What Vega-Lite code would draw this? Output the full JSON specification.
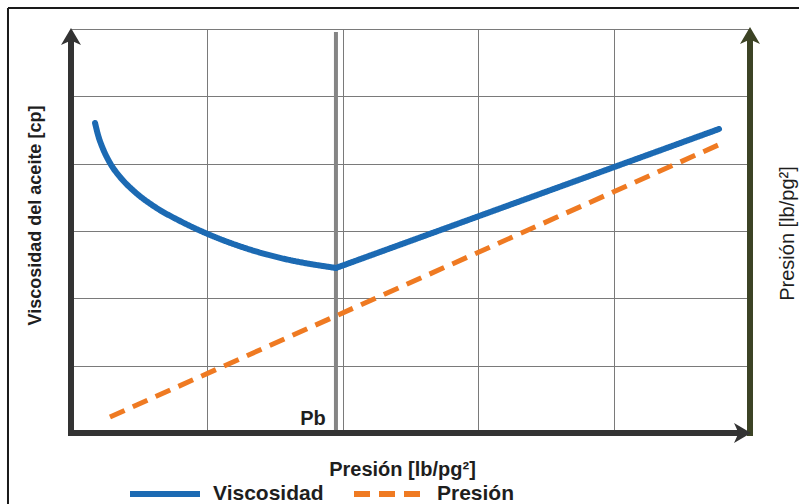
{
  "$schema": "https://vega.github.io/schema/vega-lite/v6.json",
  "width": 679,
  "height": 404,
  "autosize": {"type": "none"},
  "padding": {"left": 71, "top": 29, "right": 49, "bottom": 71},
  "background": "white",
  "config": {
    "view": {"stroke": null},
    "font": "Liberation Sans",
    "legend": {
      "orient": "none",
      "legendX": 56,
      "legendY": 427,
      "direction": "horizontal",
      "symbolType": "stroke",
      "symbolSize": 4900,
      "symbolStrokeWidth": 6,
      "labelFont": "Liberation Sans",
      "labelFontSize": 21,
      "labelFontWeight": "bold",
      "labelColor": "#1e1e1e",
      "labelOffset": 10,
      "columnPadding": 18,
      "padding": 0
    }
  },
  "resolve": {"axis": {"y": "independent"}},
  "encoding": {
    "x": {"field": "x", "type": "quantitative", "scale": {"domain": [0, 5], "nice": false, "zero": false},
      "axis": {"values": [1, 2, 3, 4], "grid": true, "gridColor": "#7a7a7a", "gridWidth": 1, "labels": false, "ticks": false, "domain": false,
        "title": "Presión [lb/pg²]", "titleFont": "Liberation Sans", "titleFontSize": 20, "titleFontWeight": "bold", "titleColor": "#1e1e1e",
        "titleX": 331, "titleY": 42, "titleAlign": "center", "titleBaseline": "alphabetic"}},
    "y": {"field": "y", "type": "quantitative", "scale": {"domain": [0, 6], "nice": false, "zero": false}, "axis": null}
  },
  "layer": [
    {
      "data": {"values": [
        {"x": -0.464, "x2": 5.4, "y": 6.312, "y2": 6.312},
        {"x": -0.464, "x2": -0.464, "y": 6.312, "y2": -1.2}
      ]},
      "mark": {"type": "rule", "color": "#1a1a1a", "strokeWidth": 2},
      "encoding": {"x2": {"field": "x2"}, "y2": {"field": "y2"}}
    },
    {
      "data": {"values": [{"x": 1.951, "y": 0, "y2": 5.955}]},
      "mark": {"type": "rule", "color": "#858585", "strokeWidth": 4},
      "encoding": {"y2": {"field": "y2"}}
    },
    {
      "data": {"values": [
        {"serie": "Presión", "x": 0.287, "y": 0.238},
        {"serie": "Presión", "x": 4.816, "y": 4.322}
      ]},
      "mark": {"type": "line", "strokeWidth": 5, "strokeCap": "butt"},
      "encoding": {
        "y": {"field": "y", "type": "quantitative", "scale": {"domain": [0, 6], "nice": false, "zero": false},
          "axis": {"orient": "right", "title": "Presión [lb/pg²]", "grid": false, "labels": false, "ticks": false, "domain": false,
            "titleFont": "Liberation Sans", "titleFontSize": 20, "titleFontWeight": "normal", "titleColor": "#1e1e1e",
            "titleAngle": 270, "titleX": 37, "titleY": 204, "titleAlign": "center", "titleBaseline": "middle"}},
        "color": {"field": "serie", "type": "nominal", "scale": {"domain": ["Viscosidad", "Presión"], "range": ["#1c6ab3", "#ef7a22"]}, "legend": {"title": null}},
        "strokeDash": {"field": "serie", "type": "nominal", "scale": {"domain": ["Viscosidad", "Presión"], "range": [[1, 0], [16, 9]]}, "legend": {"title": null}}
      }
    },
    {
      "data": {"values": [
        {"serie": "Viscosidad", "tramo": "a", "x": 0.177, "y": 4.604},
        {"serie": "Viscosidad", "tramo": "a", "x": 0.199, "y": 4.426},
        {"serie": "Viscosidad", "tramo": "a", "x": 0.236, "y": 4.218},
        {"serie": "Viscosidad", "tramo": "a", "x": 0.287, "y": 4.010},
        {"serie": "Viscosidad", "tramo": "a", "x": 0.361, "y": 3.802},
        {"serie": "Viscosidad", "tramo": "a", "x": 0.471, "y": 3.579},
        {"serie": "Viscosidad", "tramo": "a", "x": 0.619, "y": 3.356},
        {"serie": "Viscosidad", "tramo": "a", "x": 0.803, "y": 3.148},
        {"serie": "Viscosidad", "tramo": "a", "x": 1.024, "y": 2.941},
        {"serie": "Viscosidad", "tramo": "a", "x": 1.281, "y": 2.748},
        {"serie": "Viscosidad", "tramo": "a", "x": 1.576, "y": 2.584},
        {"serie": "Viscosidad", "tramo": "a", "x": 1.951, "y": 2.451},
        {"serie": "Viscosidad", "tramo": "b", "x": 1.951, "y": 2.451},
        {"serie": "Viscosidad", "tramo": "b", "x": 4.772, "y": 4.515}
      ]},
      "mark": {"type": "line", "strokeWidth": 6, "strokeCap": "round", "strokeJoin": "round", "interpolate": "monotone"},
      "encoding": {
        "y": {"field": "y", "type": "quantitative", "scale": {"domain": [0, 6], "nice": false, "zero": false},
          "axis": {"orient": "left", "values": [1, 2, 3, 4, 5, 6], "grid": true, "gridColor": "#7a7a7a", "gridWidth": 1, "labels": false, "ticks": false, "domain": false,
            "title": "Viscosidad del aceite [cp]", "titleFont": "Liberation Sans", "titleFontSize": 18, "titleFontWeight": "bold", "titleColor": "#1e1e1e",
            "titleAngle": 270, "titleX": -36, "titleY": 186, "titleAlign": "center", "titleBaseline": "middle"}},
        "detail": {"field": "tramo"},
        "color": {"field": "serie", "type": "nominal", "scale": {"domain": ["Viscosidad", "Presión"], "range": ["#1c6ab3", "#ef7a22"]}, "legend": {"title": null}},
        "strokeDash": {"field": "serie", "type": "nominal", "scale": {"domain": ["Viscosidad", "Presión"], "range": [[1, 0], [16, 9]]}, "legend": {"title": null}}
      }
    },
    {
      "data": {"values": [
        {"x": 0, "x2": 0, "y": -0.045, "y2": 5.85},
        {"x": -0.022, "x2": 4.93, "y": 0, "y2": 0}
      ]},
      "mark": {"type": "rule", "color": "#333333", "strokeWidth": 6},
      "encoding": {"x2": {"field": "x2"}, "y2": {"field": "y2"}}
    },
    {
      "data": {"values": [{"x": 5, "y": -0.045, "y2": 5.86}]},
      "mark": {"type": "rule", "color": "#3c4325", "strokeWidth": 6},
      "encoding": {"y2": {"field": "y2"}}
    },
    {
      "data": {"values": [{"x": 0, "y": 5.867}]},
      "mark": {"type": "point", "shape": "M0,-1 L1,0.7 L0,0.25 L-1,0.7 Z", "size": 400, "filled": true, "opacity": 1, "color": "#333333"}
    },
    {
      "data": {"values": [{"x": 5, "y": 5.881}]},
      "mark": {"type": "point", "shape": "M0,-1 L1,0.7 L0,0.25 L-1,0.7 Z", "size": 400, "filled": true, "opacity": 1, "color": "#3c4325"}
    },
    {
      "data": {"values": [{"x": 4.934, "y": 0}]},
      "mark": {"type": "point", "shape": "M1,0 L-0.7,1 L-0.25,0 L-0.7,-1 Z", "size": 400, "filled": true, "opacity": 1, "color": "#333333"}
    },
    {
      "data": {"values": [{"x": 1.782, "y": 0.119, "label": "Pb"}]},
      "mark": {"type": "text", "font": "Liberation Sans", "fontSize": 20, "fontWeight": "bold", "color": "#1e1e1e", "align": "center", "baseline": "alphabetic"},
      "encoding": {"text": {"field": "label"}}
    }
  ]
}
